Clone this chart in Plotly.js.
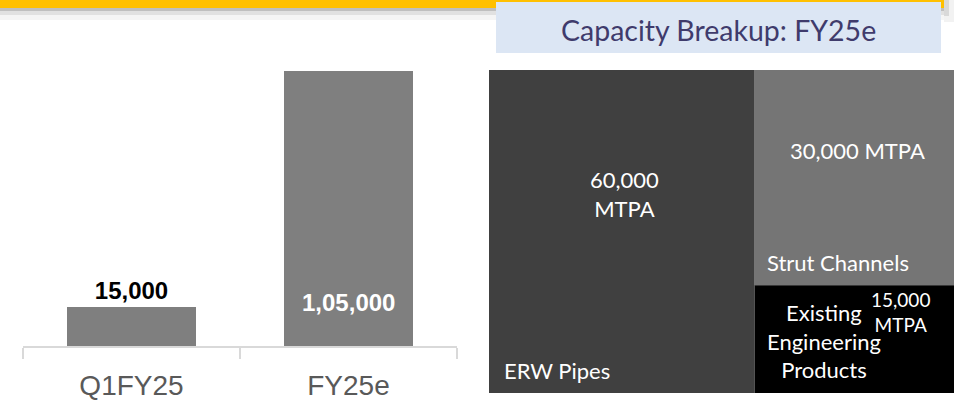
<!DOCTYPE html>
<html>
<head>
<meta charset="utf-8">
<script src="https://cdn.plot.ly/plotly-3.0.1.min.js"></script>
<style>
  html, body { margin: 0; padding: 0; background: #fff; }
  #chart { width: 954px; height: 402px; }
</style>
</head>
<body>
<div id="chart"></div>
<script>
// Capacity bars (MTPA)
const periods = ['Q1FY25', 'FY25e'];
const capacity = [15000, 105000];
const capacityLabels = ['15,000', '1,05,000'];

// Capacity breakup FY25e (treemap)
const segments = ['ERW Pipes', 'Strut Channels', 'Existing<br>Engineering<br>Products'];
const segmentValues = [60000, 30000, 15000];
const segmentValueLabels = ['60,000<br>MTPA', '30,000 MTPA', '15,000<br>MTPA'];
const segmentColors = ['#404040', '#757575', '#000000'];

const W = 954, H = 402;
// pixel -> paper helpers
const px = x => x / W;
const py = y => 1 - y / H;

const barTrace = {
    type: 'bar',
    x: periods,
    y: capacity,
    width: 0.59,
    marker: { color: '#7F7F7F' },
    text: [capacityLabels[0], ''],
    texttemplate: '<b>%{text}</b>',
    textposition: ['outside', 'none'],
    textfont: { family: 'Liberation Sans, Arial, sans-serif', size: 24, color: '#000000' },
    cliponaxis: false,
    hoverinfo: 'skip'
};

const treeTrace = {
    type: 'treemap',
    labels: segments,
    parents: segments.map(() => ''),
    values: segmentValues,
    branchvalues: 'total',
    sort: true,
    domain: { x: [px(489), 1], y: [py(393), py(70)] },
    marker: { colors: segmentColors, line: { width: 0 }, pad: { t: 0, l: 0, r: 0, b: 0 } },
    tiling: { packing: 'squarify', pad: 0 },
    pathbar: { visible: false },
    textinfo: 'none',
    hoverinfo: 'skip'
};

const tmFont = (size) => ({ family: 'Lato, sans-serif', size: size, color: '#FFFFFF' });

// tile labels and values
const treeNotes = [
    { x: px(502), y: py(370), xanchor: 'left', text: segments[0], size: 22 },
    { x: px(765), y: py(262), xanchor: 'left', text: segments[1], size: 22 },
    { x: px(824), y: py(341), xanchor: 'center', text: segments[2], size: 22 },
    { x: px(624), y: py(194), xanchor: 'center', text: segmentValueLabels[0], size: 22 },
    { x: px(857), y: py(150), xanchor: 'center', text: segmentValueLabels[1], size: 22 },
    { x: px(900), y: py(312), xanchor: 'center', text: segmentValueLabels[2], size: 19 }
].map(p => ({
    xref: 'paper', yref: 'paper',
    x: p.x, y: p.y,
    xanchor: p.xanchor, yanchor: 'middle',
    align: 'center',
    text: p.text,
    showarrow: false,
    font: tmFont(p.size)
}));

const layout = {
    width: W,
    height: H,
    margin: { l: 0, r: 0, t: 0, b: 0 },
    paper_bgcolor: '#FFFFFF',
    plot_bgcolor: 'rgba(0,0,0,0)',
    showlegend: false,
    bargap: 0,
    xaxis: {
        domain: [px(23), px(457)],
        type: 'category',
        showline: true,
        linecolor: '#D9D9D9',
        linewidth: 2,
        ticks: 'outside',
        tickson: 'boundaries',
        ticklen: 11,
        tickwidth: 2,
        tickcolor: '#D9D9D9',
        ticklabelstandoff: 13,
        tickfont: { family: 'Liberation Sans, Arial, sans-serif', size: 28, color: '#595959' },
        showgrid: false,
        zeroline: false,
        fixedrange: true
    },
    yaxis: {
        domain: [py(346), py(71)],
        range: [0, 105000],
        visible: false,
        fixedrange: true
    },
    shapes: [
        // header band with soft shadow
        { type: 'rect', xref: 'paper', yref: 'paper', x0: 0, x1: px(944), y0: py(20), y1: py(8), line: { width: 0 }, fillcolor: 'rgba(0,0,0,0.04)' },
        { type: 'rect', xref: 'paper', yref: 'paper', x0: 0, x1: px(944), y0: py(15), y1: py(8), line: { width: 0 }, fillcolor: 'rgba(0,0,0,0.08)' },
        { type: 'rect', xref: 'paper', yref: 'paper', x0: 0, x1: px(944), y0: py(11), y1: py(8), line: { width: 0 }, fillcolor: 'rgba(0,0,0,0.15)' },
        { type: 'rect', xref: 'paper', yref: 'paper', x0: px(944), x1: px(954), y0: py(22), y1: 1, line: { width: 0 }, fillcolor: 'rgba(0,0,0,0.05)' },
        { type: 'rect', xref: 'paper', yref: 'paper', x0: px(944), x1: px(949), y0: py(16), y1: 1, line: { width: 0 }, fillcolor: 'rgba(0,0,0,0.1)' },
        { type: 'rect', xref: 'paper', yref: 'paper', x0: 0, x1: px(944), y0: py(8), y1: 1, line: { width: 0 }, fillcolor: '#FFC000' },
        // title box
        { type: 'rect', xref: 'paper', yref: 'paper', x0: px(496), x1: px(941), y0: py(53), y1: py(2), line: { width: 0 }, fillcolor: '#DCE6F4' }
    ],
    annotations: [
        {
            xref: 'paper', yref: 'paper',
            x: px(718.5), y: py(30),
            xanchor: 'center', yanchor: 'middle',
            text: 'Capacity Breakup: FY25e',
            showarrow: false,
            font: { family: 'Lato, sans-serif', size: 28.5, color: '#3F3B6C' }
        },
        {
            xref: 'x', yref: 'y',
            x: periods[1], y: capacity[0],
            yshift: 4,
            xanchor: 'center', yanchor: 'middle',
            text: '<b>' + capacityLabels[1] + '</b>',
            showarrow: false,
            font: { family: 'Liberation Sans, Arial, sans-serif', size: 24, color: '#FFFFFF' }
        }
    ].concat(treeNotes)
};

Plotly.newPlot('chart', [barTrace, treeTrace], layout, { staticPlot: true, displayModeBar: false });
</script>
</body>
</html>
